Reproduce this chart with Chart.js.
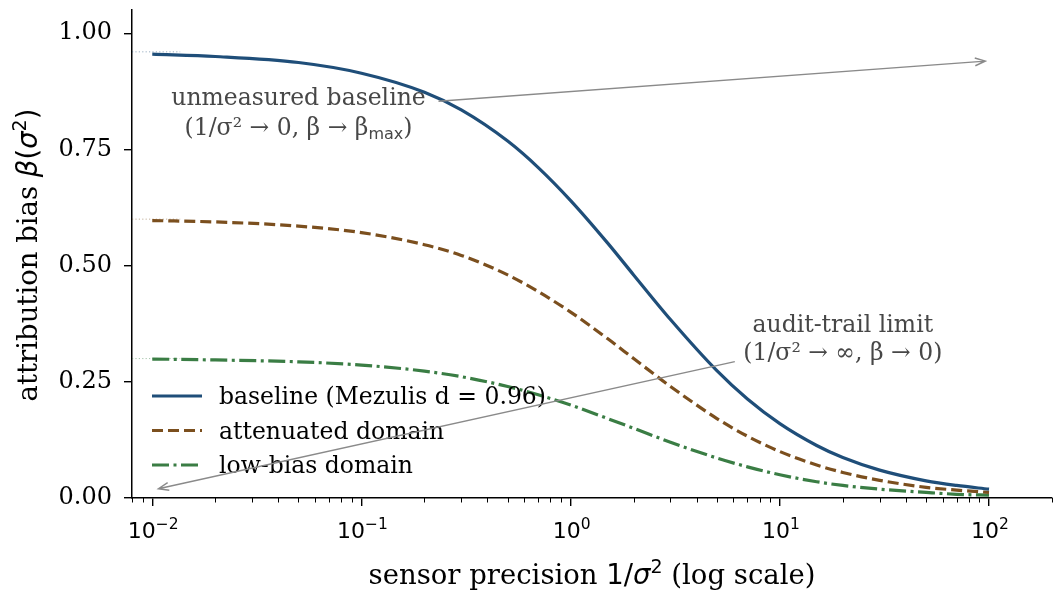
<!DOCTYPE html>
<html>
<head>
<meta charset="utf-8">
<script src="https://cdn.jsdelivr.net/npm/chart.js@4.4.0/dist/chart.umd.min.js"></script>
<style>
  html, body { margin: 0; padding: 0; background: #fff; }
  #wrap { width: 1063px; height: 602px; }
</style>
</head>
<body>
<div id="wrap"><canvas id="biasChart" width="1063" height="602"></canvas></div>
<script>
// sensor precision 1/sigma^2 (x) and bias values
const precision = [0.01, 0.02, 0.05, 0.1, 0.2, 0.3, 0.5, 0.7, 1, 1.5, 2, 3, 5, 7, 10, 15, 20, 30, 50, 70, 100];
const baselineBias = [0.955, 0.950, 0.937, 0.914, 0.873, 0.835, 0.768, 0.711, 0.640, 0.549, 0.480, 0.384, 0.274, 0.213, 0.160, 0.113, 0.087, 0.060, 0.037, 0.027, 0.019];
const attenuatedBias = [0.597, 0.594, 0.585, 0.571, 0.545, 0.522, 0.480, 0.444, 0.400, 0.343, 0.300, 0.240, 0.171, 0.133, 0.100, 0.071, 0.055, 0.038, 0.023, 0.017, 0.012];
const lowBias = [0.299, 0.297, 0.293, 0.286, 0.273, 0.261, 0.240, 0.222, 0.200, 0.171, 0.150, 0.120, 0.086, 0.067, 0.050, 0.035, 0.027, 0.019, 0.012, 0.008, 0.006];
const betaMax = [0.96, 0.60, 0.30];
const seriesLabels = ['baseline (Mezulis d = 0.96)', 'attenuated domain', 'low-bias domain'];
const xMajorTicks = [0.01, 0.1, 1, 10, 100];
const xTickExponents = ['−2', '−1', '0', '1', '2'];
const yTicks = [0, 0.25, 0.5, 0.75, 1.0];

const SERIF = '"DejaVu Serif", serif';
const SANS = '"DejaVu Sans", sans-serif';
const colors = ['#1f4e79', '#7b4f1e', '#3a7d44'];
const fadedColors = ['rgba(31,78,121,0.45)', 'rgba(123,79,30,0.45)', 'rgba(58,125,68,0.45)'];
const dashes = [[], [11, 5], [17, 4.5, 3, 4.5]];

function toPoints(ys) {
    return precision.map((x, i) => ({ x: x, y: ys[i] }));
}

const datasets = [baselineBias, attenuatedBias, lowBias].map((ys, i) => ({
    label: seriesLabels[i],
    data: toPoints(ys),
    borderColor: colors[i],
    borderWidth: 3.2,
    borderDash: dashes[i],
    pointRadius: 0,
    cubicInterpolationMode: 'monotone',
    fill: false
}));

// faint dotted marks at beta_max near the left spine
betaMax.forEach((b, i) => {
    datasets.push({
        label: '',
        refLine: true,
        data: [{ x: 0.008, y: b }, { x: 0.0136, y: b }],
        borderColor: fadedColors[i],
        borderWidth: 1,
        borderDash: [1.2, 2.2],
        pointRadius: 0
    });
});

// draw a run of text pieces with different fonts
function drawPieces(ctx, pieces, x, y, align) {
    let total = 0;
    pieces.forEach(p => { ctx.font = p.font; p.w = ctx.measureText(p.t).width; total += p.w; });
    let cx = align === 'center' ? x - total / 2 : (align === 'right' ? x - total : x);
    ctx.textAlign = 'left';
    ctx.textBaseline = 'alphabetic';
    pieces.forEach(p => {
        ctx.font = p.font;
        ctx.fillText(p.t, cx, y + (p.dy || 0));
        cx += p.w;
    });
}

function drawArrow(ctx, x0, y0, x1, y1) {
    const ang = Math.atan2(y1 - y0, x1 - x0);
    const len = 11, half = 0.36;
    ctx.save();
    ctx.strokeStyle = '#8a8a8a';
    ctx.lineWidth = 1.4;
    ctx.beginPath();
    ctx.moveTo(x0, y0);
    ctx.lineTo(x1, y1);
    ctx.moveTo(x1 - len * Math.cos(ang - half), y1 - len * Math.sin(ang - half));
    ctx.lineTo(x1, y1);
    ctx.lineTo(x1 - len * Math.cos(ang + half), y1 - len * Math.sin(ang + half));
    ctx.stroke();
    ctx.restore();
}

const decorations = {
    id: 'decorations',
    afterDraw(chart) {
        const ctx = chart.ctx;
        const xs = chart.scales.x, ys = chart.scales.y;
        const area = chart.chartArea;

        // minor ticks on the log axis
        ctx.save();
        ctx.strokeStyle = '#000';
        ctx.lineWidth = 1;
        for (let e = -3; e <= 2; e++) {
            for (let m = 2; m <= 9; m++) {
                const v = m * Math.pow(10, e);
                if (v < xs.min || v > xs.max) continue;
                const px = Math.round(xs.getPixelForValue(v)) + 0.5;
                ctx.beginPath();
                ctx.moveTo(px, area.bottom);
                ctx.lineTo(px, area.bottom + 4.5);
                ctx.stroke();
            }
        }
        ctx.restore();

        ctx.save();
        ctx.fillStyle = '#000';
        // x tick labels, 10^n
        xMajorTicks.forEach((v, i) => {
            const px = xs.getPixelForValue(v);
            drawPieces(ctx, [
                { t: '10', font: '22px ' + SANS },
                { t: xTickExponents[i], font: '15.5px ' + SANS, dy: -9 }
            ], px + 1, 538, 'center');
        });

        // axis titles
        const f = '27.5px ' + SERIF, m = '27.5px ' + SANS, mi = 'italic 27.5px ' + SANS, ms = '19px ' + SANS;
        drawPieces(ctx, [
            { t: 'sensor precision ', font: f },
            { t: '1/', font: m },
            { t: 'σ', font: mi },
            { t: '2', font: ms, dy: -11 },
            { t: ' (log scale)', font: f }
        ], (area.left + area.right) / 2, 584, 'center');

        ctx.save();
        ctx.translate(37, 255);
        ctx.rotate(-Math.PI / 2);
        drawPieces(ctx, [
            { t: 'attribution bias ', font: f },
            { t: 'β', font: mi },
            { t: '(', font: m },
            { t: 'σ', font: mi },
            { t: '2', font: ms, dy: -11 },
            { t: ')', font: m }
        ], 0, 0, 'center');
        ctx.restore();

        // legend
        const lf = '23.5px ' + SERIF;
        chart.data.datasets.filter(d => !d.refLine).forEach((d, i) => {
            const ly = 396 + i * 34.5;
            ctx.save();
            ctx.strokeStyle = d.borderColor;
            ctx.lineWidth = d.borderWidth;
            ctx.setLineDash(d.borderDash);
            ctx.beginPath();
            ctx.moveTo(area.left + 20, ly);
            ctx.lineTo(area.left + 70, ly);
            ctx.stroke();
            ctx.restore();
            drawPieces(ctx, [{ t: d.label, font: lf }], area.left + 87, ly + 8, 'left');
        });

        // annotations
        const af = '23.5px ' + SERIF, afs = '16px ' + SANS;
        ctx.fillStyle = '#474747';
        const t1x = xs.getPixelForValue(0.05), t1y = ys.getPixelForValue(0.83);
        drawArrow(ctx, t1x + 140, t1y - 11, xs.getPixelForValue(96), ys.getPixelForValue(0.94));
        drawPieces(ctx, [{ t: 'unmeasured baseline', font: af }], t1x, t1y - 7, 'center');
        drawPieces(ctx, [
            { t: '(1/σ² → 0, β → β', font: af },
            { t: 'max', font: afs, dy: 4 },
            { t: ')', font: af }
        ], t1x, t1y + 23, 'center');

        const t2x = xs.getPixelForValue(20), t2y = ys.getPixelForValue(0.345);
        drawArrow(ctx, t2x - 108, t2y + 24, xs.getPixelForValue(0.0107), ys.getPixelForValue(0.02));
        drawPieces(ctx, [{ t: 'audit-trail limit', font: af }], t2x, t2y - 6, 'center');
        drawPieces(ctx, [{ t: '(1/σ² → ∞, β → 0)', font: af }], t2x, t2y + 22, 'center');
        ctx.restore();
    }
};

const ctx = document.getElementById('biasChart').getContext('2d');
const biasChart = new Chart(ctx, {
    type: 'line',
    data: { datasets: datasets },
    options: {
        responsive: false,
        animation: false,
        layout: { padding: { top: 10, right: 11, left: 0, bottom: 0 } },
        plugins: { legend: { display: false }, tooltip: { enabled: false } },
        scales: {
            x: {
                type: 'logarithmic',
                min: 0.008,
                max: 200,
                afterFit: s => { s.height = 104; s.paddingLeft = 0; s.paddingRight = 0; },
                afterBuildTicks: s => { s.ticks = xMajorTicks.map(v => ({ value: v })); },
                border: { display: true, color: '#000', width: 1.5 },
                grid: { drawOnChartArea: false, drawTicks: true, tickLength: 8, color: '#000', lineWidth: 1.4 },
                ticks: { display: false }
            },
            y: {
                min: 0,
                max: 1.05,
                afterFit: s => { s.width = 132; s.paddingTop = 0; s.paddingBottom = 0; },
                afterBuildTicks: s => { s.ticks = yTicks.map(v => ({ value: v })); },
                border: { display: true, color: '#000', width: 1.5 },
                grid: { drawOnChartArea: false, drawTicks: true, tickLength: 8, color: '#000', lineWidth: 1.4 },
                ticks: {
                    color: '#000',
                    font: { family: SERIF, size: 24 },
                    padding: 12,
                    callback: v => v.toFixed(2)
                }
            }
        }
    },
    plugins: [decorations]
});
</script>
</body>
</html>
